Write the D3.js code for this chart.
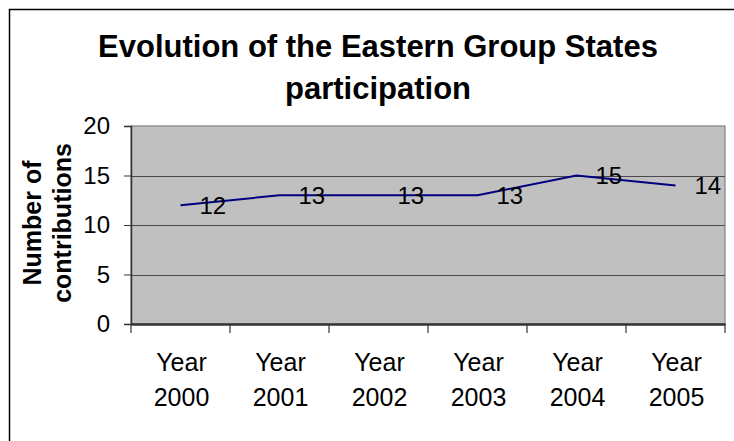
<!DOCTYPE html>
<html>
<head>
<meta charset="utf-8">
<script src="https://cdn.jsdelivr.net/npm/d3@7"></script>
<style>
html,body{margin:0;padding:0;background:#fff;}
svg{display:block;font-family:"Liberation Sans",Arial,sans-serif;}
</style>
</head>
<body>
<svg id="chart" width="734" height="441"></svg>
<script>
const titleLines = ["Evolution of the Eastern Group States", "participation"];
const yTitleLines = ["Number of", "contributions"];
const categories = ["Year 2000", "Year 2001", "Year 2002", "Year 2003", "Year 2004", "Year 2005"];
const values = [12, 13, 13, 13, 15, 14];
const yTicks = [0, 5, 10, 15, 20];

const svg = d3.select("#chart");
const W = 734, H = 441;
const plot = {left: 131, right: 725, top: 126, bottom: 324};

svg.append("rect").attr("width", W).attr("height", H).attr("fill", "#fff");
// outer chart border (cropped on right and bottom)
svg.append("rect").attr("x", 9.5).attr("y", 9.5).attr("width", W + 20).attr("height", H + 20)
  .attr("fill", "none").attr("stroke", "#000").attr("stroke-width", 1.5);

const x = d3.scaleBand().domain(categories).range([plot.left, plot.right]).padding(0);
const y = d3.scaleLinear().domain([0, 20]).range([plot.bottom, plot.top]);

// plot area
svg.append("rect").attr("x", plot.left).attr("y", plot.top)
  .attr("width", plot.right - plot.left).attr("height", plot.bottom - plot.top)
  .attr("fill", "#C0C0C0").attr("stroke", "#808080").attr("stroke-width", 1.2);

// gridlines
svg.append("g").selectAll("line").data(yTicks.filter(d => d > 0 && d < 20)).join("line")
  .attr("x1", plot.left).attr("x2", plot.right)
  .attr("y1", d => Math.round(y(d)) + 0.5).attr("y2", d => Math.round(y(d)) + 0.5)
  .attr("stroke", "#4a4a4a").attr("stroke-width", 1);

// y axis
const yAxis = svg.append("g").attr("transform", `translate(${plot.left},0)`)
  .call(d3.axisLeft(y).tickValues(yTicks).tickSize(7).tickPadding(14).tickFormat(d3.format("d")));
yAxis.select(".domain").attr("stroke", "#333").attr("stroke-width", 1.5);
yAxis.selectAll(".tick line").attr("stroke", "#333");
yAxis.selectAll(".tick text").attr("font-size", 24).attr("fill", "#000")
  .attr("font-family", "'Liberation Sans', Arial, sans-serif");

// x axis
const xAxis = svg.append("g").attr("transform", `translate(0,${plot.bottom})`)
  .call(d3.axisBottom(x).tickSize(0).tickPadding(0).tickFormat(""));
xAxis.select(".domain").attr("stroke", "#333").attr("stroke-width", 2.5);
// boundary tick marks
const bounds = categories.map(c => x(c)).concat([x.range()[1]]);
xAxis.append("g").selectAll("line").data(bounds).join("line")
  .attr("x1", d => d).attr("x2", d => d).attr("y1", 0).attr("y2", 9)
  .attr("stroke", "#333").attr("stroke-width", 1.2);
// labels
const labG = svg.append("g").attr("font-size", 25).attr("text-anchor", "middle").attr("fill", "#000");
categories.forEach(c => {
  const parts = c.split(" ");
  const t = labG.append("text").attr("x", x(c) + x.bandwidth() / 2 + 1).attr("y", 371);
  t.append("tspan").attr("x", x(c) + x.bandwidth() / 2 + 1).text(parts[0]);
  t.append("tspan").attr("x", x(c) + x.bandwidth() / 2 + 1).attr("dy", 35).text(parts[1]);
});

// line
const line = d3.line().x((d, i) => x(categories[i]) + x.bandwidth() / 2).y(d => y(d));
svg.append("path").datum(values).attr("d", line)
  .attr("fill", "none").attr("stroke", "#000080").attr("stroke-width", 2);

// data labels
svg.append("g").selectAll("text").data(values).join("text")
  .attr("x", (d, i) => x(categories[i]) + x.bandwidth() / 2 + 19)
  .attr("y", d => y(d) + 8.5)
  .attr("font-size", 24).attr("fill", "#000")
  .text(d => d);

// title
const tt = svg.append("text").attr("text-anchor", "middle").attr("font-weight", "bold")
  .attr("font-size", 31).attr("fill", "#000");
titleLines.forEach((l, i) => {
  tt.append("tspan").attr("x", 378).attr("y", 57 + i * 42).text(l);
});

// y axis title
const yt = svg.append("text").attr("text-anchor", "middle").attr("font-weight", "bold")
  .attr("font-size", 25).attr("fill", "#000")
  .attr("transform", "translate(0,223) rotate(-90)");
yTitleLines.forEach((l, i) => {
  yt.append("tspan").attr("x", 0).attr("y", 41 + i * 30).text(l);
});
</script>
</body>
</html>
